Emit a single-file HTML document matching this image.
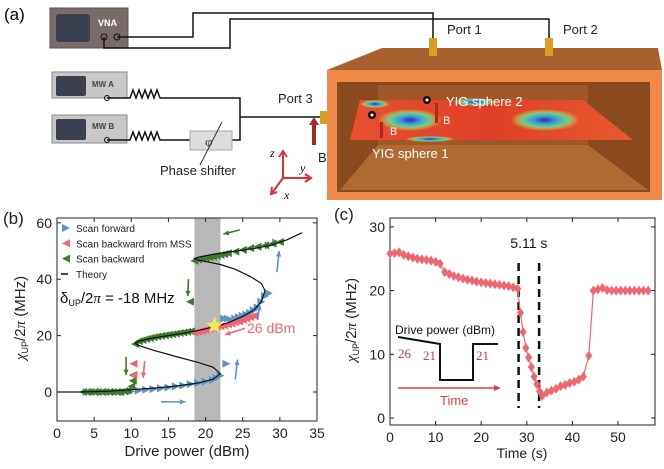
<!DOCTYPE html>
<html><head><meta charset="utf-8"><style>
body{margin:0;background:#fff;}
svg{display:block;font-family:"Liberation Sans",sans-serif;}
</style></head><body>
<svg id="fig" width="664" height="469" viewBox="0 0 664 469" xmlns="http://www.w3.org/2000/svg">
<defs>
<radialGradient id="blueSpot"><stop offset="0" stop-color="#3a2a9a"/><stop offset="0.35" stop-color="#3aa0e0"/><stop offset="0.65" stop-color="#70d080"/><stop offset="1" stop-color="#f0d040" stop-opacity="0"/></radialGradient>
<linearGradient id="plateGrad" x1="0" x2="1"><stop offset="0" stop-color="#e85030"/><stop offset="0.5" stop-color="#e04028"/><stop offset="1" stop-color="#e85a30"/></linearGradient>
</defs>
<!-- Panel a -->
<g>
<text x="4" y="20" font-size="17">(a)</text>
<rect x="50" y="8" width="78" height="40" fill="#7a6a6a" stroke="#555"/>
<rect x="56" y="14" width="34" height="28" rx="3" fill="#3a4050"/>
<text x="98" y="26" font-size="9" font-weight="bold" fill="#fff">VNA</text>
<rect x="52" y="72" width="75" height="26" fill="#c8c8c8" stroke="#888"/>
<rect x="56" y="76" width="30" height="20" rx="2" fill="#3a4050"/>
<text x="92" y="87" font-size="8" font-weight="bold" fill="#444">MW A</text>
<rect x="52" y="115" width="75" height="28" fill="#c8c8c8" stroke="#888"/>
<rect x="56" y="119" width="30" height="21" rx="2" fill="#3a4050"/>
<text x="92" y="129" font-size="8" font-weight="bold" fill="#444">MW B</text>
<g fill="none" stroke="#111" stroke-width="1.5">
<path d="M117 37 H193 V13 H433 V40"/>
<path d="M104 37 V48 H230 V19 H549 V40"/>
<path d="M107 98 H130 l3 -8 l3 8 l3 -8 l3 8 l3 -8 l3 8 l3 -8 l3 8 l3 -8 l3 8 H190 H240 V140 H232"/>
<path d="M107 140 H130 l3 -8 l3 8 l3 -8 l3 8 l3 -8 l3 8 l3 -8 l3 8 l3 -8 l3 8 H190"/>
<path d="M240 117 H325"/>
</g>
<circle cx="104" cy="37" r="3" fill="none" stroke="#111"/><circle cx="117" cy="37" r="3" fill="none" stroke="#111"/>
<circle cx="107" cy="98" r="2.5" fill="none" stroke="#111"/><circle cx="107" cy="140" r="2.5" fill="none" stroke="#111"/>
<rect x="190" y="131" width="42" height="19" fill="#ddd" stroke="#aaa"/>
<text x="205" y="146" font-size="13" font-family="Liberation Serif,serif" fill="#333">φ</text>
<line x1="200" y1="165" x2="222" y2="122" stroke="#333"/>
<text x="160" y="175" font-size="13" fill="#222">Phase shifter</text>
<text x="278" y="103" font-size="13" fill="#222">Port 3</text>
<rect x="312" y="123" width="4" height="22" fill="#a82a20"/>
<path d="M309 125 L314 117 L319 125Z" fill="#a82a20"/>
<text x="318" y="162" font-size="13" fill="#222">B<tspan font-size="8" dy="3">0</tspan></text>
<g stroke="#e03030" stroke-width="2" fill="none">
<path d="M283 178 V152 M279 157 L283 151 L287 157"/><path d="M283 178 H310 M305 174 L311 178 L305 182"/><path d="M283 178 L272 193 M272 187 L271 194 L277 192"/></g>
<text x="270" y="157" font-size="12" font-style="italic" font-family="Liberation Serif,serif">z</text>
<text x="300" y="172" font-size="12" font-style="italic" font-family="Liberation Serif,serif">y</text>
<text x="284" y="199" font-size="12" font-style="italic" font-family="Liberation Serif,serif">x</text>
<!-- cavity -->
<polygon points="327,70 382,48 658,48 662,70" fill="#a8602e"/>
<rect x="327" y="70" width="335" height="130" fill="#f08a48"/>
<rect x="337" y="82" width="313" height="110" fill="#8a4a1e"/>
<rect x="378" y="85" width="210" height="60" fill="#a0582a"/>
<polygon points="340,190 378,145 588,145 648,190" fill="#b06a34"/>
<polygon points="350,140 360,100 583,100 633,140" fill="url(#plateGrad)"/>
<ellipse cx="410" cy="120" rx="32" ry="11" fill="url(#blueSpot)"/>
<ellipse cx="545" cy="120" rx="35" ry="11" fill="url(#blueSpot)"/>
<ellipse cx="475" cy="102" rx="22" ry="4" fill="url(#blueSpot)"/>
<ellipse cx="430" cy="139" rx="25" ry="3" fill="url(#blueSpot)"/>
<ellipse cx="375" cy="104" rx="15" ry="4" fill="url(#blueSpot)"/>
<circle cx="427" cy="100" r="4" fill="#111"/><circle cx="427" cy="100" r="1.5" fill="#fff"/>
<circle cx="372" cy="115" r="4" fill="#111"/><circle cx="372" cy="115" r="1.5" fill="#fff"/>
<rect x="435" y="103" width="3" height="20" fill="#a82a20"/><rect x="380" y="122" width="3" height="16" fill="#a82a20"/>
<text x="446" y="106" font-size="13" fill="#fff">YIG sphere 2</text>
<text x="372" y="158" font-size="13" fill="#fff">YIG sphere 1</text>
<text x="443" y="124" font-size="11" fill="#fff">B</text><text x="390" y="135" font-size="11" fill="#fff">B</text>
<rect x="429" y="38" width="8" height="18" fill="#d8a020"/>
<rect x="545" y="38" width="8" height="18" fill="#d8a020"/>
<rect x="320" y="111" width="8" height="13" fill="#d8a020"/>
<text x="447" y="34" font-size="13" fill="#222">Port 1</text>
<text x="563" y="34" font-size="13" fill="#222">Port 2</text>
</g>
<g id="pb"></g>
<g id="pc"></g>
</svg>
<script>
// Panel b data
const bXTicks=[0,5,10,15,20,25,30,35];
const bYTicks=[0,20,40,60];
const theoryX=[0,3,7,10,13,16,19,21,22,21,19,16,13,11,10.5,11,13,15,17,19,21,23,25,26.5,27.5,28,27.5,26,24,22,20,18.8,18.5,19,21,23,25,27,29,31,33];
const theoryY=[0,0,0.3,0.8,1.4,2.1,3.2,4.5,6.5,8.8,10.5,12.6,14.8,16.5,17.3,18,19.2,20,20.8,21.8,23,24.5,26.8,29,32,36,38.5,41,43.5,45.2,46.3,46.9,47.3,47.8,48.8,49.6,50.3,51.1,52.2,54,56.5];
const fwdX=[4,5,6,7,8,9,10,11,12,13,14,15,16,17,18,19,20,21,21.5,22,22.5,23,23.5,24,24.5,25,25.5,26,26.5,27,27.5,28,28.5,28.5,29.5,22.8];
const fwdY=[0,0,0,0,0,0,0.2,0.5,0.8,1,1.3,1.6,2,2.3,2.8,3.2,3.7,4.3,5,5.8,26,26,25.5,26,26.5,27,27.5,28,29,30,32,34,35,52,53,10];
const mssX=[18.5,19,19.5,20,20.5,21,21.5,22,22.5,23,23.5,24,24.5,25,25.5,26,26.5,10.3,10.3];
const mssY=[21,21.3,21.7,22,22.3,22.7,23,23.3,23.6,24,24.3,24.7,25,25.5,26,26.5,27,10,6];
const bwdX=[3.5,4,4.5,5,5.5,6,6.5,7,7.5,8,8.5,9,9.5,10,10.2,10.5,11,11.5,12,12.5,13,13.5,14,14.5,15,15.5,16,16.5,17,17.5,18,18.5,19,19.5,20,20.5,21,21.5,22,22.5,23,24,25,26,27,28,29,30,17.9,10.2];
const bwdY=[0,0,0,0,0,0,0,0,0,0,0,0.3,0.5,2,4,17,18,18.4,18.8,19.1,19.4,19.7,19.9,20.1,20.3,20.5,20.7,20.9,21.1,21.3,21.5,46.5,47,47.2,47.5,47.8,48,48.3,48.6,48.9,49.2,49.8,50.4,51,51.5,52,52.6,53.2,32,6];
// Panel c data
const cXTicks=[0,10,20,30,40,50];
const cYTicks=[0,10,20,30];
const cT=[0,1,2,3,4,5,6,7,8,9,10,11,12,13,14,15,16,17,18,19,20,21,22,23,24,25,26,27,28,28.6,29.2,29.8,30.4,31,31.6,32.2,32.8,33.4,34.4,35.4,36.4,37.4,38.4,39.4,40.4,41.4,42.4,43.6,44.6,45.6,46.6,47.6,48.6,49.6,50.6,51.6,52.6,53.6,54.6,55.6,56.6];
const cV=[25.8,25.9,26,25.6,25.4,25.2,25,24.9,24.8,24.7,24.5,24.2,22.9,22.6,22.3,22.1,21.9,21.7,21.6,21.4,21.3,21.2,21.1,21,20.9,20.8,20.7,20.5,20.3,16.5,13.5,11,9.5,8,6.5,5.3,4.2,3.5,4,4.3,4.6,5,5.2,5.5,5.7,6,6.5,9.8,20,20.2,20.4,20.1,20,20,20,20,20,20,20,20,20];
const cMarks=[28.2,32.7];

const NS='http://www.w3.org/2000/svg';
function mk(p,tag,at,txt){const e=document.createElementNS(NS,tag);for(const k in at)e.setAttribute(k,at[k]);if(txt!==undefined)e.textContent=txt;p.appendChild(e);return e;}

// ---- Panel b ----
const pb=document.getElementById('pb');
const bx=v=>57+(v-0)*(260/35), by=v=>392-v*2.82;
mk(pb,'rect',{x:by(0)?bx(18.5):0,y:218,width:bx(22)-bx(18.5),height:203,fill:'#b8b8b8'});
const bfr=mk(pb,'rect',{x:57,y:218,width:260,height:203,fill:'none',stroke:'#222','stroke-width':1});


bXTicks.forEach(t=>{mk(pb,'line',{x1:bx(t),x2:bx(t),y1:421,y2:417,stroke:'#222'});mk(pb,'line',{x1:bx(t),x2:bx(t),y1:218,y2:222,stroke:'#222'});
const l=mk(pb,'text',{x:bx(t),y:438,'font-size':14,'text-anchor':'middle',fill:'#222'},t);});
bYTicks.forEach(t=>{mk(pb,'line',{x1:57,x2:61,y1:by(t),y2:by(t),stroke:'#222'});mk(pb,'line',{x1:317,x2:313,y1:by(t),y2:by(t),stroke:'#222'});
const l=mk(pb,'text',{x:52,y:by(t)+5,'font-size':14,'text-anchor':'end',fill:'#222'},t);});
const bxt=mk(pb,'text',{x:187,y:456,'font-size':15,'text-anchor':'middle',fill:'#222'},'Drive power (dBm)');


const byt=mk(pb,'text',{x:0,y:0,'font-size':15,'text-anchor':'middle',fill:'#222',transform:'translate(25,318) rotate(-90)'});
byt.innerHTML='<tspan font-style="italic" font-family="Liberation Serif,serif">χ</tspan><tspan font-size="9" dy="3">UP</tspan><tspan dy="-3">/2</tspan><tspan font-style="italic" font-family="Liberation Serif,serif">π</tspan> (MHz)';


mk(pb,'text',{x:3,y:224,'font-size':17,fill:'#222'},'(b)');
function tri(g,x,y,dir,col){const s=4;const d=dir>0?`M${x-s} ${y-s}L${x+s} ${y}L${x-s} ${y+s}Z`:`M${x+s} ${y-s}L${x-s} ${y}L${x+s} ${y+s}Z`;return mk(g,'path',{d:d,fill:col});}
fwdX.forEach((x,i)=>{const m=tri(pb,bx(x),by(fwdY[i]),1,'#5b93c8');});
bwdX.forEach((x,i)=>{const m=tri(pb,bx(x),by(bwdY[i]),-1,'#3e7a2e');});
mssX.forEach((x,i)=>{const m=tri(pb,bx(x),by(mssY[i]),-1,'#f06670');});
const th=mk(pb,'path',{d:theoryX.map((x,i)=>(i?'L':'M')+bx(x).toFixed(1)+' '+by(theoryY[i]).toFixed(1)).join(''),fill:'none',stroke:'#111','stroke-width':1.2});


// star
(function(){const cx=bx(21.2),cy=by(23.5),R=9,r=4;let d='';for(let i=0;i<10;i++){const a=-Math.PI/2+i*Math.PI/5,rr=i%2?r:R;d+=(i?'L':'M')+(cx+rr*Math.cos(a)).toFixed(1)+' '+(cy+rr*Math.sin(a)).toFixed(1);}
const s=mk(pb,'path',{d:d+'Z',fill:'#f5e860'});})();
function arr(g,x1,y1,x2,y2,col,name){const e=mk(g,'g',{});mk(e,'line',{x1:x1,y1:y1,x2:x2,y2:y2,stroke:col,'stroke-width':1.6});const a=Math.atan2(y2-y1,x2-x1);
mk(e,'path',{d:`M${x2} ${y2}L${x2-6*Math.cos(a-0.45)} ${y2-6*Math.sin(a-0.45)}L${x2-6*Math.cos(a+0.45)} ${y2-6*Math.sin(a+0.45)}Z`,fill:col});}
arr(pb,bx(9.3),by(12.5),bx(9.3),by(6),'#3e7a2e','green-arrow');
arr(pb,bx(11.8),by(11),bx(11.6),by(5),'#f06670','red-arrow');
arr(pb,bx(17.7),by(40),bx(17.6),by(34),'#3e7a2e','green-arrow');
arr(pb,bx(24.6),by(57.5),bx(22.4),by(56),'#3e7a2e','green-arrow');
arr(pb,bx(24),by(4.5),bx(24.3),by(11.5),'#5b93c8','blue-arrow');
arr(pb,bx(27),by(25.5),bx(27.3),by(31),'#5b93c8','blue-arrow');
arr(pb,bx(29.6),by(42.5),bx(29.9),by(50),'#5b93c8','blue-arrow');
arr(pb,bx(14),by(-3.5),bx(17.3),by(-3.5),'#5b93c8','blue-arrow');
arr(pb,bx(25.3),by(22.6),bx(22.6),by(20.3),'#f06670','red-arrow');
mk(pb,'text',{x:247,y:333,'font-size':14,fill:'#f06670'},'26 dBm');
const legItems=[['Scan forward','#5b93c8',1],['Scan backward from MSS','#f06670',-1],['Scan backward','#3e7a2e',-1]];
legItems.forEach((it,i)=>{const y=232+i*15.3;const g=mk(pb,'g',{});tri(g,66,y-4,it[2],it[1]);mk(g,'text',{x:76,y:y,'font-size':10,fill:'#222'},it[0]);});
const lt=mk(pb,'g',{});
mk(lt,'line',{x1:61,x2:68,y1:274,y2:274,stroke:'#111','stroke-width':1.5});mk(lt,'text',{x:76,y:278,'font-size':10,fill:'#222'},'Theory');
const dl=mk(pb,'text',{x:60,y:303,'font-size':15,fill:'#111'});dl.innerHTML='δ<tspan font-size="9" dy="3">UP</tspan><tspan dy="-3">/2</tspan><tspan font-style="italic" font-family="Liberation Serif,serif">π</tspan> = -18 MHz';



// ---- Panel c ----
const pc=document.getElementById('pc');
const cx=v=>390+v*4.56, cy=v=>418-v*6.37;
const cfr=mk(pc,'rect',{x:390,y:218,width:265,height:207,fill:'none',stroke:'#222'});


cXTicks.forEach(t=>{mk(pc,'line',{x1:cx(t),x2:cx(t),y1:425,y2:421,stroke:'#222'});mk(pc,'line',{x1:cx(t),x2:cx(t),y1:218,y2:222,stroke:'#222'});
const l=mk(pc,'text',{x:cx(t),y:442,'font-size':14,'text-anchor':'middle',fill:'#222'},t);});
cYTicks.forEach(t=>{mk(pc,'line',{x1:390,x2:394,y1:cy(t),y2:cy(t),stroke:'#222'});mk(pc,'line',{x1:655,x2:651,y1:cy(t),y2:cy(t),stroke:'#222'});
const l=mk(pc,'text',{x:385,y:cy(t)+5,'font-size':14,'text-anchor':'end',fill:'#222'},t);});
const cxt=mk(pc,'text',{x:522,y:458,'font-size':14,'text-anchor':'middle',fill:'#222'},'Time (s)');


const cyt=mk(pc,'text',{x:0,y:0,'font-size':15,'text-anchor':'middle',fill:'#222',transform:'translate(356,320) rotate(-90)'});
cyt.innerHTML='<tspan font-style="italic" font-family="Liberation Serif,serif">χ</tspan><tspan font-size="9" dy="3">UP</tspan><tspan dy="-3">/2</tspan><tspan font-style="italic" font-family="Liberation Serif,serif">π</tspan> (MHz)';


mk(pc,'text',{x:334,y:220,'font-size':17,fill:'#222'},'(c)');
cMarks.forEach(t=>{const l=mk(pc,'line',{x1:cx(t),x2:cx(t),y1:263,y2:408,stroke:'#111','stroke-width':2.5,'stroke-dasharray':'8,5'});});
mk(pc,'text',{x:cx((cMarks[0]+cMarks[1])/2),y:248,'font-size':14,'text-anchor':'middle',fill:'#111'},'5.11 s');
const cl=mk(pc,'path',{d:cT.map((t,i)=>(i?'L':'M')+cx(t).toFixed(1)+' '+cy(cV[i]).toFixed(1)).join(''),fill:'none',stroke:'#f06670','stroke-width':1.2});


cT.forEach((t,i)=>{const x=cx(t),y=cy(cV[i]);const m=mk(pc,'path',{d:`M${x} ${y-5}L${x+3.5} ${y}L${x} ${y+5}L${x-3.5} ${y}Z`,fill:'#f06670'});});
const ins=mk(pc,'g',{});
mk(ins,'text',{x:395,y:334,'font-size':12,fill:'#111'},'Drive power (dBm)');
mk(ins,'path',{d:'M398 337 L440 344 V380 H473 V344 H498',fill:'none',stroke:'#111','stroke-width':2});
mk(ins,'text',{x:398,y:358,'font-size':13,fill:'#c04040','font-family':'Liberation Serif,serif'},'26');
mk(ins,'text',{x:423,y:360,'font-size':13,fill:'#c04040','font-family':'Liberation Serif,serif'},'21');
mk(ins,'text',{x:476,y:360,'font-size':13,fill:'#c04040','font-family':'Liberation Serif,serif'},'21');
mk(ins,'line',{x1:398,x2:496,y1:388,y2:388,stroke:'#e04040','stroke-width':1.5});
mk(ins,'path',{d:'M501 388 L494 385 L494 391Z',fill:'#e04040'});
mk(ins,'text',{x:440,y:405,'font-size':13,fill:'#e04040'},'Time');
</script>
</body></html>
